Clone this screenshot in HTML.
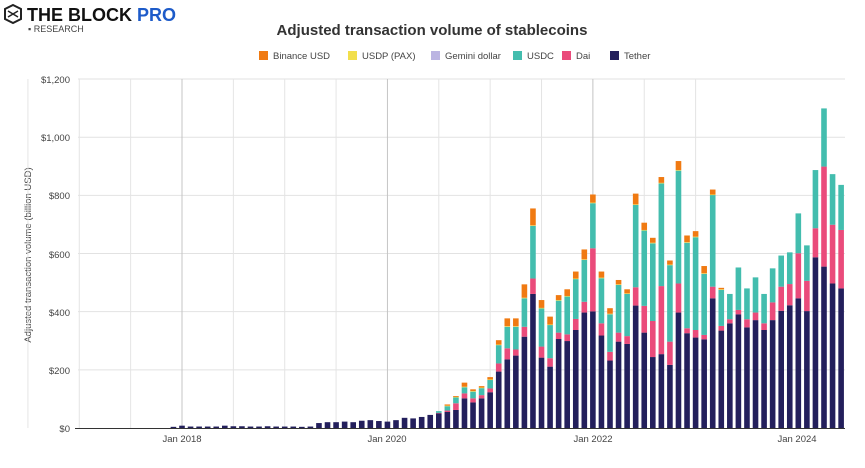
<!DOCTYPE html>
<html><head><meta charset="utf-8"><style>
body{margin:0;background:#fff;width:865px;height:463px;overflow:hidden;font-family:"Liberation Sans",sans-serif}
</style></head><body>
<svg id="s" width="865" height="463" xmlns="http://www.w3.org/2000/svg" font-family="Liberation Sans, sans-serif">
<g stroke="#222" stroke-width="2" fill="none"><polygon points="13,5 21,9 21,19 13,23 5,19 5,9"/><path d="M8,11 L18,17 M18,11 L8,17" stroke-width="1.5"/></g>
<text x="27" y="21" font-size="18" font-weight="bold" fill="#111">THE BLOCK <tspan fill="#1d5bc9">PRO</tspan></text>
<text x="28" y="32" font-size="9" fill="#444">▪ RESEARCH</text>
<text x="432" y="35" font-size="15" font-weight="bold" fill="#333" text-anchor="middle">Adjusted transaction volume of stablecoins</text>
<g font-size="9.5" fill="#444">
<rect x="259" y="51" width="9" height="9" fill="#f07a12"/><text x="273" y="59">Binance USD</text>
<rect x="348" y="51" width="9" height="9" fill="#f2df4c"/><text x="362" y="59">USDP (PAX)</text>
<rect x="431" y="51" width="9" height="9" fill="#bbb4e2"/><text x="445" y="59">Gemini dollar</text>
<rect x="513" y="51" width="9" height="9" fill="#43bdae"/><text x="527" y="59">USDC</text>
<rect x="562" y="51" width="9" height="9" fill="#ea4b7b"/><text x="576" y="59">Dai</text>
<rect x="610" y="51" width="9" height="9" fill="#231f5c"/><text x="624" y="59">Tether</text>
</g>
<text transform="translate(31,255) rotate(-90)" font-size="9.5" fill="#444" text-anchor="middle">Adjusted transaction volume (billion USD)</text>
<g id="grid"></g><g id="bars"></g>
<line x1="75" y1="428.5" x2="845" y2="428.5" stroke="#333" stroke-width="1"/>
<g font-size="9.5" fill="#444" text-anchor="end">
<text x="70" y="432">$0</text><text x="70" y="374">$200</text><text x="70" y="316">$400</text><text x="70" y="258">$600</text><text x="70" y="199">$800</text><text x="70" y="141">$1,000</text><text x="70" y="83">$1,200</text>
</g>
<g font-size="9.5" fill="#444" text-anchor="middle">
<text x="182" y="442">Jan 2018</text><text x="387" y="442">Jan 2020</text><text x="593" y="442">Jan 2022</text><text x="797" y="442">Jan 2024</text>
</g>
</svg>
<script>
var NS="http://www.w3.org/2000/svg";
function el(p,t,a){var e=document.createElementNS(NS,t);for(var k in a)e.setAttribute(k,a[k]);p.appendChild(e);return e;}
var g=document.getElementById("grid");
for(var v=200;v<=1200;v+=200){var y=428-v*0.2908;el(g,"line",{x1:78,x2:845,y1:y,y2:y,stroke:"#e2e2e2","stroke-width":1});}
for(var k=-4;k<=10;k++){var x=182+k*6*8.56;el(g,"line",{x1:x,x2:x,y1:79,y2:428,stroke:(k%4==0)?"#c4c4c4":"#e4e4e4","stroke-width":1});}
// early tether-only
var early=[4,8,5,5,5,5,8,6,6,5,5,6,5,5,5,4,5,17,20,20,22,20,25,27,24,22,27,35,33,38,45];
// [tether, daiTop, usdcTop, total]
var late={30:[50,52,58,58],31:[55,60,75,79],32:[62,85,105,108],33:[102,119,140,154],34:[88,102,125,131],35:[102,113,137,142],36:[123,136,165,173],
37:[194,222,285,300],38:[236,274,348,375],39:[249,270,348,375],40:[314,348,446,492],41:[461,514,695,753],42:[242,280,411,438],43:[211,240,354,381],
44:[306,328,438,455],45:[299,322,452,475],46:[337,375,512,536],47:[397,434,578,612],48:[401,618,773,801],49:[318,360,515,536],50:[232,262,391,410],
51:[297,328,492,507],52:[289,316,461,475],53:[421,484,767,804],54:[328,420,679,704],55:[244,368,635,652],56:[254,488,841,861],57:[217,297,560,574],
58:[397,497,885,916],59:[326,343,637,660],60:[311,337,656,675],61:[305,320,530,555],62:[446,486,801,818],63:[335,351,475,480],64:[360,374,461,461],
65:[391,406,552,552],66:[346,374,480,480],67:[371,397,518,518],68:[337,360,461,461],69:[371,432,549,549],70:[403,486,593,593],71:[422,495,604,604],
72:[446,601,738,738],73:[402,506,628,628],74:[587,687,887,887],75:[555,899,1099,1099],76:[497,699,873,873],77:[480,681,836,836]};
var b=document.getElementById("bars"),S=0.2908,W=5.6;
function seg(i,lo,hi,c){if(hi<=lo)return;var x=182+i*8.56-W/2;el(b,"rect",{x:x,y:428-hi*S,width:W,height:(hi-lo)*S,fill:c});}
for(var j=0;j<early.length;j++){var i=j-1;if(late[i])continue;seg(i,0,early[j],"#231f5c");}
for(var i in late){var d=late[i];i=+i;seg(i,0,d[0],"#231f5c");seg(i,d[0],d[1],"#ea4b7b");seg(i,d[1],d[2],"#43bdae");
if(d[3]>d[2]){seg(i,d[2],d[2]+2,"#f2df4c");seg(i,d[2]+2,d[3]+2,"#f07a12");}}
</script>
</body></html>
